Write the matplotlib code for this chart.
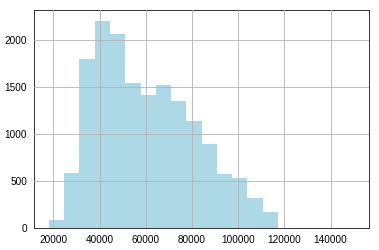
import numpy as np
import matplotlib
matplotlib.use('Agg')
import matplotlib.pyplot as plt

# bin edges (income-like values) and counts
bin_start = 18124
bin_width = 6602
n_bins = 21
counts = [88, 586, 1795, 2198, 2063, 1543, 1413, 1519, 1353, 1141,
          894, 576, 533, 321, 173, 8, 4, 3, 2, 1, 1]
xticks = [20000, 40000, 60000, 80000, 100000, 120000, 140000]
yticks = [0, 500, 1000, 1500, 2000]

edges = bin_start + bin_width * np.arange(n_bins + 1)
lefts = edges[:-1]

plt.rcParams['font.family'] = ['Liberation Sans', 'DejaVu Sans']

fig = plt.figure(figsize=(379 / 72, 250 / 72), dpi=72)
ax = fig.add_axes([0.0897, 0.0868, 0.8839, 0.8722])

ax.hist(lefts, bins=edges, weights=counts, color='lightblue')

ax.set_xlim(11630, 156650)
ax.set_ylim(0, 2310)
ax.set_xticks(xticks)
ax.set_yticks(yticks)
ax.grid(True, color='#b0b0b0', linewidth=0.8)
ax.set_axisbelow(False)
ax.tick_params(length=0, pad=7, labelsize=10, colors='black')
for s in ax.spines.values():
    s.set_color('#222222')
    s.set_linewidth(0.9)

plt.savefig('out.png', dpi=72)
plt.close()
